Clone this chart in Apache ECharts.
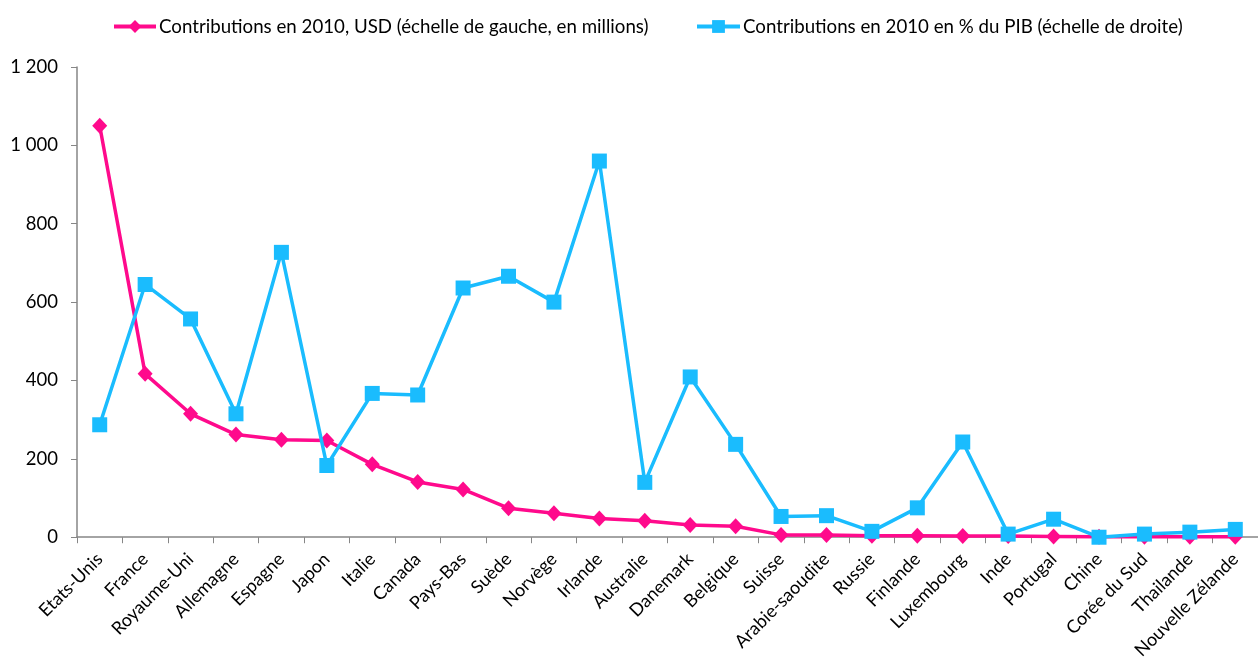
<!DOCTYPE html>
<html><head><meta charset="utf-8">
<script src="https://cdn.jsdelivr.net/npm/echarts@6/dist/echarts.min.js"></script>
<style>html,body{margin:0;padding:0;background:#fff}#c{width:1258px;height:662px}</style>
</head><body><div id="c"></div>
<script>
const categories = ["Etats-Unis","France","Royaume-Uni","Allemagne","Espagne","Japon","Italie","Canada","Pays-Bas","Suède","Norvège","Irlande","Australie","Danemark","Belgique","Suisse","Arabie-saoudite","Russie","Finlande","Luxembourg","Inde","Portugal","Chine","Corée du Sud","Thailande","Nouvelle Zélande"];
// Contributions 2010, USD millions (left scale)
const usdMillions = [1050,417,315,262,249,247,186,141,122,74,61,48,42,31,28,6,6,4,4,3,3,2,1,1,1,1];
// Contributions 2010 in % of GDP (right scale, not displayed)
const pctGDP = [0.00287,0.00645,0.00557,0.00315,0.00727,0.00183,0.00367,0.00363,0.00636,0.00666,0.00600,0.00960,0.00140,0.00409,0.00237,0.00053,0.00055,0.00015,0.00075,0.00243,0.00008,0.00046,0.00000,0.00008,0.00013,0.00020];
const leftTicks = {min:0, max:1200, interval:200};
const seriesNames = ["Contributions en 2010, USD (échelle de gauche, en millions)","Contributions en 2010 en % du PIB (échelle de droite)"];

const FONT = "Lato, 'Open Sans', sans-serif";
const chart = echarts.init(document.getElementById('c'), null, {renderer:'canvas'});
chart.setOption({
  animation:false,
  textStyle:{fontFamily:FONT},
  legend:[
    {data:[seriesNames[0]], left:107, top:12, itemWidth:42, itemHeight:16, itemGap:0,
     lineStyle:{width:4},
     textStyle:{fontFamily:FONT,fontSize:18.7,color:'#000',padding:[0,0,0,-2]}},
    {data:[seriesNames[1]], left:690, top:12, itemWidth:43, itemHeight:16, itemGap:0,
     lineStyle:{width:4},
     textStyle:{fontFamily:FONT,fontSize:18.7,color:'#000',padding:[0,0,0,-2]}}
  ],
  grid:{left:77, top:67, width:1183, bottom:123, containLabel:false},
  xAxis:{
    type:'category', data:categories, boundaryGap:true,
    axisLine:{lineStyle:{color:'#868686',width:1.5}},
    axisTick:{show:true, alignWithLabel:false, length:6, lineStyle:{color:'#868686'}},
    axisLabel:{rotate:45, interval:0, color:'#000', fontSize:18, fontFamily:FONT, margin:19}
  },
  yAxis:[
    {type:'value', min:leftTicks.min, max:leftTicks.max, interval:leftTicks.interval,
     splitLine:{show:false},
     axisLine:{show:true,lineStyle:{color:'#868686',width:1.5}},
     axisTick:{show:true,length:6,lineStyle:{color:'#868686'}},
     axisLabel:{color:'#000',fontSize:18.5,fontFamily:FONT,margin:19,
       formatter:v=>String(v).replace(/\B(?=(\d{3})+(?!\d))/g,' ')}},
    {type:'value', min:0, max:0.012, show:false, splitLine:{show:false}}
  ],
  series:[
    {name:seriesNames[0], type:'line', yAxisIndex:0, data:usdMillions,
     symbol:'diamond', symbolSize:[15,16], lineStyle:{color:'#FF0A8C',width:3.5},
     itemStyle:{color:'#FF0A8C'}, z:2},
    {name:seriesNames[1], type:'line', yAxisIndex:1, data:pctGDP,
     symbol:'rect', symbolSize:15, lineStyle:{color:'#1ABCFE',width:3.5},
     itemStyle:{color:'#1ABCFE'}, z:3}
  ]
});
</script></body></html>
